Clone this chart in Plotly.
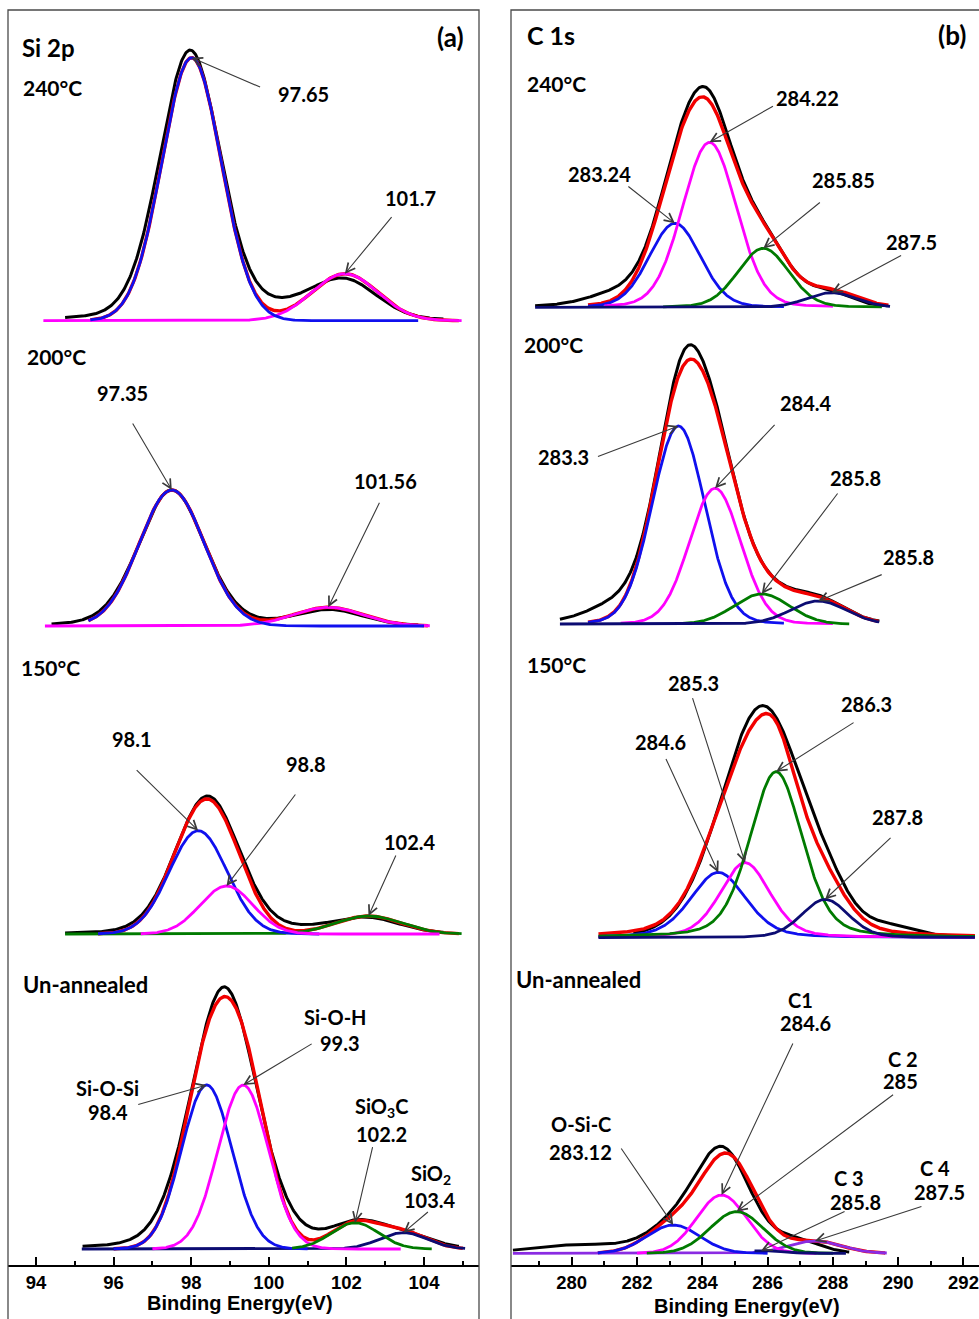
import numpy as np
import plotly.graph_objects as go

W, H = 979, 1319

# ---------------- data ----------------
SI_TICKS = [94, 96, 98, 100, 102, 104]
C_TICKS = [280, 282, 284, 286, 288, 290, 292]

# fitted components: (centre eV, height a.u., FWHM eV, lorentz fraction, drawn from, drawn to)
SI_240_FIT = [(101.96, 47, 2.0, 0.0, 94.19, 104.97),
              (98.01, 263, 1.80, 0.0, 95.4, 103.85)]
SI_240_EXP = [(97.97, 270, 1.85, 0.15), (101.98, 37, 1.95, 0.1), (100.5, 10, 2.4, 0.0)]
SI_240_EXP_SPAN = (94.75, 104.5)
SI_240_ENV_SPAN = (95.4, 104.9)

SI_200_FIT = [(101.53, 18.7, 2.1, 0.0, 94.23, 104.15),
              (97.50, 136, 1.98, 0.0, 95.35, 104.0)]
SI_200_EXP = [(97.5, 136, 2.0, 0.15), (101.56, 15.5, 2.0, 0.1)]
SI_200_EXP_SPAN = (94.4, 103.85)
SI_200_ENV_SPAN = (95.35, 104.1)

SI_150_FIT = [(102.57, 18, 2.0, 0.0, 94.75, 104.97),
              (98.18, 103.3, 1.75, 0.0, 95.6, 101.3),
              (98.91, 48, 1.6, 0.0, 96.7, 104.4)]
SI_150_EXP = [(98.42, 138, 1.95, 0.12), (102.5, 16, 2.0, 0.1), (100.9, 3, 1.5, 0.0)]
SI_150_EXP_SPAN = (94.75, 104.5)
SI_150_ENV_SPAN = (95.6, 104.9)

SI_UA_FIT = [(103.47, 16.3, 1.45, 0.0, 95.18, 105.06),
             (98.40, 164, 1.53, 0.0, 96.0, 101.0),
             (99.34, 164, 1.53, 0.0, 97.0, 103.4),
             (102.22, 26.3, 1.44, 0.0, 100.6, 104.2)]
SI_UA_EXP = [(98.85, 262, 2.0, 0.15), (100.9, 4, 1.8, 0.0), (102.25, 22, 1.5, 0.0), (103.45, 14, 1.65, 0.0)]
SI_UA_EXP_SPAN = (95.2, 104.9)
SI_UA_ENV_SPAN = (96.0, 105.0)

C_240_FIT = [(283.16, 84, 1.85, 0.1, 280.5, 286.5),
             (284.22, 165, 1.95, 0.1, 281.0, 288.0),
             (285.87, 59, 1.84, 0.1, 282.8, 289.5),
             (287.96, 14.6, 1.8, 0.0, 278.88, 289.75)]
C_240_EXP = [(283.2, 85, 1.85, 0.15), (284.22, 172, 1.95, 0.15), (285.87, 58, 1.9, 0.1),
             (287.9, 12, 1.5, 0.0), (281.3, 10, 2.0, 0.0)]
C_240_EXP_SPAN = (278.88, 289.6)
C_240_ENV_SPAN = (280.5, 289.7)

C_200_FIT = [(283.27, 198, 1.9, 0.05, 280.5, 286.5),
             (284.39, 135.7, 1.85, 0.05, 281.5, 288.0),
             (285.82, 30, 2.0, 0.0, 283.3, 288.5),
             (287.55, 23, 2.0, 0.0, 279.64, 289.42)]
C_200_EXP = [(283.4, 235, 1.95, 0.2), (284.5, 105, 1.75, 0.1), (285.85, 28, 2.0, 0.0),
             (287.55, 22, 1.9, 0.0), (281.2, 12, 1.8, 0.0)]
C_200_EXP_SPAN = (279.64, 289.42)
C_200_ENV_SPAN = (280.5, 289.4)

C_150_FIT = [(284.49, 65.3, 2.0, 0.3, 280.82, 292.35),
             (285.31, 75, 1.8, 0.3, 280.82, 292.35),
             (286.26, 166, 1.9, 0.3, 280.82, 292.35),
             (287.76, 38.3, 1.69, 0.2, 280.82, 292.35)]
C_150_EXP = [(285.85, 232, 3.0, 0.1), (287.9, 18, 1.5, 0.0), (289.7, 9, 1.8, 0.0)]
C_150_EXP_SPAN = (281.89, 292.35)
C_150_ENV_SPAN = (280.82, 292.35)

C_UA_FIT = [(287.45, 12.3, 1.9, 0.0, 278.2, 289.65),
            (283.11, 28.3, 1.9, 0.0, 280.8, 286.0),
            (284.59, 58.3, 1.8, 0.0, 282.0, 287.5),
            (285.05, 41.7, 1.9, 0.0, 282.3, 288.0),
            (285.8, 2.5, 1.5, 0.0, 285.6, 288.4)]
C_UA_EXP = [(284.62, 103, 2.0, 0.1), (283.1, 20, 1.9, 0.0), (286.9, 12, 1.6, 0.0),
            (281.0, 7, 3.5, 0.0), (279.3, 3, 2.5, 0.0)]
C_UA_EXP_SPAN = (278.2, 288.5)
C_UA_ENV_SPAN = (280.8, 289.6)

# ---------------- styles / layout ----------------
BLACK, RED = '#000000', '#f20000'
BLUE, MAGENTA, GREEN, NAVY, PURPLE = '#1010ee', '#ff00ff', '#007a00', '#0c0c72', '#8a2be2'

# vertical baselines of the stacked spectra (axis units = px above the axis line)
LEFT_BASE = {'240': 944.3, '200': 639.0, '150': 331.0, 'ua': 16.0}
RIGHT_BASE = {'240': 957.7, '200': 641.0, '150': 327.3, 'ua': 11.7}

Y_TOP = 1265 - 10
LEFT_DOM = (8 / W, 479 / W)
RIGHT_DOM = (511 / W, 1.0)
SI_RANGE = (93.278, 105.418)
C_RANGE = (278.141, 292.475)


def pv(x, c, h, w, eta):
    u = (x - c) / w
    return h * ((1 - eta) * np.exp(-4 * np.log(2) * u ** 2) + eta / (1 + 4 * u ** 2))


fig = go.Figure()


def add_spectrum(xa, ya, base, fit, colors, exp, exp_span, env_span):
    xs = np.linspace(exp_span[0], exp_span[1], 600)
    ys = base + sum(pv(xs, c, h, w, e) for c, h, w, e in exp)
    fig.add_trace(go.Scatter(x=xs, y=ys, mode='lines', line=dict(color=BLACK, width=3),
                             xaxis=xa, yaxis=ya, hoverinfo='skip'))
    xe = np.linspace(env_span[0], env_span[1], 600)
    ye = base + sum(pv(xe, c, h, w, e) for c, h, w, e, lo, hi in fit)
    fig.add_trace(go.Scatter(x=xe, y=ye, mode='lines', line=dict(color=RED, width=3.4),
                             xaxis=xa, yaxis=ya, hoverinfo='skip'))
    for (c, h, w, e, lo, hi), col in zip(fit, colors):
        xc = np.linspace(lo, hi, 500)
        yc = base + pv(xc, c, h, w, e)
        fig.add_trace(go.Scatter(x=xc, y=yc, mode='lines', line=dict(color=col, width=2.8),
                                 xaxis=xa, yaxis=ya, hoverinfo='skip'))


add_spectrum('x', 'y', LEFT_BASE['240'], SI_240_FIT, [MAGENTA, BLUE], SI_240_EXP, SI_240_EXP_SPAN, SI_240_ENV_SPAN)
add_spectrum('x', 'y', LEFT_BASE['200'], SI_200_FIT, [MAGENTA, BLUE], SI_200_EXP, SI_200_EXP_SPAN, SI_200_ENV_SPAN)
add_spectrum('x', 'y', LEFT_BASE['150'], SI_150_FIT, [GREEN, BLUE, MAGENTA], SI_150_EXP, SI_150_EXP_SPAN, SI_150_ENV_SPAN)
add_spectrum('x', 'y', LEFT_BASE['ua'], SI_UA_FIT, [NAVY, BLUE, MAGENTA, GREEN], SI_UA_EXP, SI_UA_EXP_SPAN, SI_UA_ENV_SPAN)

add_spectrum('x2', 'y2', RIGHT_BASE['240'], C_240_FIT, [BLUE, MAGENTA, GREEN, NAVY], C_240_EXP, C_240_EXP_SPAN, C_240_ENV_SPAN)
add_spectrum('x2', 'y2', RIGHT_BASE['200'], C_200_FIT, [BLUE, MAGENTA, GREEN, NAVY], C_200_EXP, C_200_EXP_SPAN, C_200_ENV_SPAN)
add_spectrum('x2', 'y2', RIGHT_BASE['150'], C_150_FIT, [BLUE, MAGENTA, GREEN, NAVY], C_150_EXP, C_150_EXP_SPAN, C_150_ENV_SPAN)
add_spectrum('x2', 'y2', RIGHT_BASE['ua'], C_UA_FIT, [PURPLE, BLUE, MAGENTA, GREEN, NAVY], C_UA_EXP, C_UA_EXP_SPAN, C_UA_ENV_SPAN)

# ---------------- annotations ----------------
LBL = dict(family='Lato', color='black', weight='bold')
TEXT_DY = 1.5

# (text, px, py, size, anchor)
LABELS = [
    ('Si 2p', 20, 45.7, 24, 'left'), ('(a)', 450, 35, 26, 'center'),
    ('240°C', 21, 86, 21, 'left'), ('97.65', 303.3, 92.7, 20, 'center'), ('101.7', 410.8, 196.7, 20, 'center'),
    ('200°C', 25, 355, 21, 'left'), ('97.35', 122.5, 391.7, 20, 'center'), ('101.56', 385.3, 479.3, 20, 'center'),
    ('150°C', 19, 666, 21, 'left'), ('98.1', 131.7, 737.3, 20, 'center'), ('98.8', 306, 762.7, 20, 'center'),
    ('102.4', 410, 840, 20, 'center'),
    ('Un-annealed', 21, 983.3, 22, 'left'),
    ('Si-O-Si', 107, 1086.7, 20, 'center'), ('98.4', 108, 1110, 20, 'center'),
    ('Si-O-H', 335, 1015, 20, 'center'), ('99.3', 340, 1041.7, 20, 'center'),
    ('SiO<sub>3</sub>C', 381, 1105.5, 20, 'center'), ('102.2', 381, 1132.5, 20, 'center'),
    ('SiO<sub>2</sub>', 431, 1173, 20, 'center'), ('103.4', 430, 1198, 20, 'center'),
    ('C 1s', 525, 33.3, 25, 'left'), ('(b)', 951.7, 33.3, 26, 'center'),
    ('240°C', 525, 81.7, 21, 'left'), ('284.22', 807.5, 96.7, 20, 'center'), ('283.24', 599.2, 172.7, 20, 'center'),
    ('285.85', 843, 178.3, 20, 'center'), ('287.5', 911.7, 240, 20, 'center'),
    ('200°C', 521.7, 343.3, 21, 'left'), ('283.3', 563.3, 455, 20, 'center'), ('284.4', 806, 401.7, 20, 'center'),
    ('285.8', 855, 476.7, 20, 'center'), ('285.8', 908.3, 555, 20, 'center'),
    ('150°C', 525, 662.7, 21, 'left'), ('285.3', 693.3, 681.7, 20, 'center'), ('284.6', 660.3, 740, 20, 'center'),
    ('286.3', 866, 702.7, 20, 'center'), ('287.8', 897.8, 815, 20, 'center'),
    ('Un-annealed', 514, 978.3, 22, 'left'),
    ('O-Si-C', 580.8, 1122.7, 20, 'center'), ('283.12', 580.8, 1150.7, 20, 'center'),
    ('C1', 800.8, 998.3, 20, 'center'), ('284.6', 805.8, 1021.7, 20, 'center'),
    ('C 2', 902.5, 1057.3, 20, 'center'), ('285', 900, 1079.3, 20, 'center'),
    ('C 3', 849, 1176.7, 20, 'center'), ('285.8', 855, 1200, 20, 'center'),
    ('C 4', 935, 1166.7, 20, 'center'), ('287.5', 939, 1190, 20, 'center'),
]

annotations = []
for text, px, py, size, anchor in LABELS:
    annotations.append(dict(text=text, x=px / W, y=1 - (py + TEXT_DY) / H, xref='paper', yref='paper',
                            xanchor=anchor, yanchor='middle', showarrow=False,
                            font=dict(size=size, **LBL)))

# arrows: (axis, baseline, fit list, component index, tail dx px, tail dy px)
ARROWS = [
    ('x', LEFT_BASE['240'], SI_240_FIT, 1, 70, 30), ('x', LEFT_BASE['240'], SI_240_FIT, 0, 48, -58),
    ('x', LEFT_BASE['200'], SI_200_FIT, 1, -40, -68), ('x', LEFT_BASE['200'], SI_200_FIT, 0, 52, -106),
    ('x', LEFT_BASE['150'], SI_150_FIT, 1, -63, -62), ('x', LEFT_BASE['150'], SI_150_FIT, 2, 70, -93),
    ('x', LEFT_BASE['150'], SI_150_FIT, 0, 28, -62),
    ('x', LEFT_BASE['ua'], SI_UA_FIT, 1, -70, 20), ('x', LEFT_BASE['ua'], SI_UA_FIT, 2, 70, -42),
    ('x', LEFT_BASE['ua'], SI_UA_FIT, 3, 18, -77), ('x', LEFT_BASE['ua'], SI_UA_FIT, 0, 26, -22),
    ('x2', RIGHT_BASE['240'], C_240_FIT, 1, 65, -37), ('x2', RIGHT_BASE['240'], C_240_FIT, 0, -48, -38),
    ('x2', RIGHT_BASE['240'], C_240_FIT, 2, 58, -47), ('x2', RIGHT_BASE['240'], C_240_FIT, 3, 71, -38),
    ('x2', RIGHT_BASE['200'], C_200_FIT, 0, -82, 31), ('x2', RIGHT_BASE['200'], C_200_FIT, 1, 61, -65),
    ('x2', RIGHT_BASE['200'], C_200_FIT, 2, 77, -102), ('x2', RIGHT_BASE['200'], C_200_FIT, 3, 65, -27),
    ('x2', RIGHT_BASE['150'], C_150_FIT, 1, -53, -166), ('x2', RIGHT_BASE['150'], C_150_FIT, 0, -53, -115),
    ('x2', RIGHT_BASE['150'], C_150_FIT, 2, 79, -50), ('x2', RIGHT_BASE['150'], C_150_FIT, 3, 67, -63),
    ('x2', RIGHT_BASE['ua'], C_UA_FIT, 1, -53, -78), ('x2', RIGHT_BASE['ua'], C_UA_FIT, 2, 72, -153),
    ('x2', RIGHT_BASE['ua'], C_UA_FIT, 3, 158, -118), ('x2', RIGHT_BASE['ua'], C_UA_FIT, 4, 85, -40),
    ('x2', RIGHT_BASE['ua'], C_UA_FIT, 0, 108, -35),
]
for xa, base, fit, idx, dx, dy in ARROWS:
    c, h = fit[idx][0], fit[idx][1]
    annotations.append(dict(text='', x=c, y=base + h, xref=xa, yref='y' if xa == 'x' else 'y2',
                            showarrow=True, ax=dx, ay=dy, arrowhead=5, arrowsize=1.6, arrowwidth=1.1,
                            arrowcolor='#3a3a3a', standoff=0))

TITLE_FONT = dict(family='Liberation Sans', size=20, color='black', weight='bold')
annotations.append(dict(text='Binding Energy(eV)', x=240 / W, y=1 - 1303 / H, xref='paper', yref='paper',
                        showarrow=False, font=TITLE_FONT, xanchor='center', yanchor='middle'))
annotations.append(dict(text='Binding Energy(eV)', x=746.7 / W, y=1 - 1306 / H, xref='paper', yref='paper',
                        showarrow=False, font=TITLE_FONT, xanchor='center', yanchor='middle'))

TICK_FONT = dict(family='Liberation Sans', size=18.5, color='black', weight='bold')


def xaxis(dom, rng, ticks, anchor):
    return dict(domain=list(dom), range=list(rng), tickmode='array', tickvals=ticks,
                ticktext=[str(t) for t in ticks], ticks='inside', ticklen=8, tickwidth=2,
                tickcolor='black', showline=True, linecolor='black', linewidth=2, showgrid=False,
                zeroline=False, tickfont=TICK_FONT, anchor=anchor, fixedrange=True,
                ticklabeloverflow='allow',
                minor=dict(tickmode='array', tickvals=[t + 1 for t in ticks] + [ticks[0] - 1],
                           ticks='inside', ticklen=4, tickwidth=2, tickcolor='black', showgrid=False))


def yaxis(anchor):
    return dict(domain=[54 / H, 1309 / H], range=[0, Y_TOP], visible=False, anchor=anchor, fixedrange=True)


shapes = [
    dict(type='rect', xref='paper', yref='paper', x0=8 / W, x1=479 / W, y0=-0.05, y1=1309 / H,
         line=dict(color='#4a4a4a', width=1.3), layer='above'),
    dict(type='rect', xref='paper', yref='paper', x0=511 / W, x1=1.05, y0=-0.05, y1=1309 / H,
         line=dict(color='#4a4a4a', width=1.3), layer='above'),
]

fig.update_layout(
    width=W, height=H, margin=dict(l=0, r=0, t=0, b=0),
    paper_bgcolor='white', plot_bgcolor='rgba(0,0,0,0)', showlegend=False,
    xaxis=xaxis(LEFT_DOM, SI_RANGE, SI_TICKS, 'y'), yaxis=yaxis('x'),
    xaxis2=xaxis(RIGHT_DOM, C_RANGE, C_TICKS, 'y2'), yaxis2=yaxis('x2'),
    annotations=annotations, shapes=shapes,
)

fig.write_html('out.html')
